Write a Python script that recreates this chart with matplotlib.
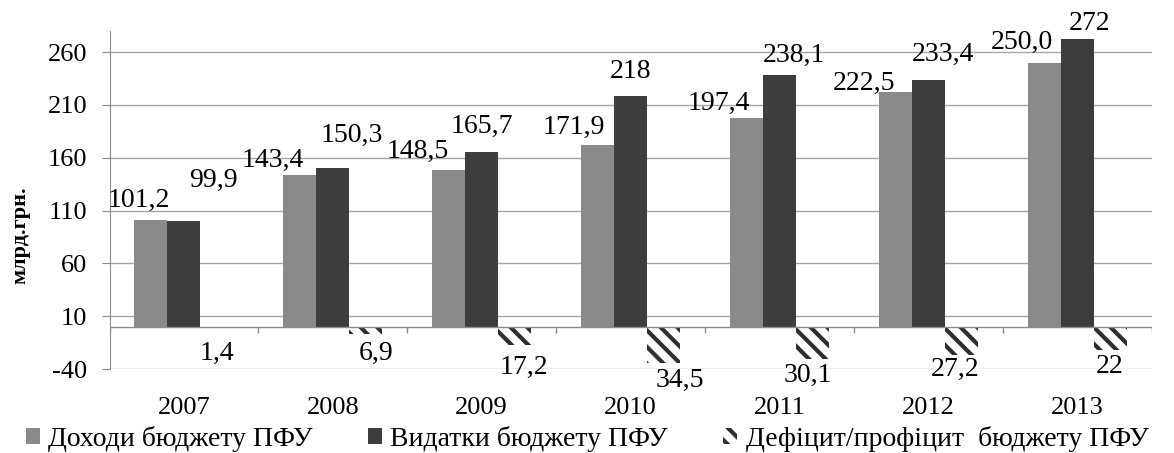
import numpy as np
import matplotlib
matplotlib.use('Agg')
import matplotlib.pyplot as plt
from matplotlib.patches import Patch

years = ['2007', '2008', '2009', '2010', '2011', '2012', '2013']
income = [101.2, 143.4, 148.5, 171.9, 197.4, 222.5, 250.0]
expense = [99.9, 150.3, 165.7, 218, 238.1, 233.4, 272]
deficit = [-1.4, -6.9, -17.2, -34.5, -30.1, -27.2, -22]
yticks = [-40, 10, 60, 110, 160, 210, 260]
names = ['Доходи бюджету ПФУ', 'Видатки бюджету ПФУ', 'Дефіцит/профіцит  бюджету ПФУ']

# label offsets in pixels (hand placed in the original)
inc_off = [(-12, 19), (-27, 15), (-31, 18), (-24, 18), (-28, 15), (-31, 8), (-22, 20)]
exp_off = [(30, 41), (19, 33), (0, 25), (0, 25), (15, 20), (15, 26), (12, 16)]
def_off = [(0, -25), (10, -19), (9, -22), (16, -17), (-5, -17), (-6, -14), (0, -17)]

plt.rcParams['font.family'] = ['Liberation Serif', 'DejaVu Serif']
plt.rcParams['hatch.linewidth'] = 3.0
plt.rcParams['hatch.color'] = '#2e2e2e'

def lab(v):
    return str(abs(v)).replace('.', ',')

fig = plt.figure(figsize=(11.74, 4.53), dpi=100)
ax = fig.add_axes([109.5/1174, 84/453, 1042/1174, 338/453])

x = np.arange(len(years))
w = 0.222
grey = '#8a8a8a'
dark = '#3d3d3d'

ax.bar(x - w, income, w, color=grey, zorder=3)
ax.bar(x, expense, w, color=dark, zorder=3)
ax.bar(x + w, deficit, w, color='white', edgecolor='#2e2e2e', linewidth=0,
       hatch='\\\\', zorder=3)

fs = 20
for i in range(len(years)):
    ax.annotate(lab(income[i]), (x[i] - w, income[i]), xytext=inc_off[i],
                textcoords='offset pixels', ha='center', va='center', fontsize=fs, zorder=5)
    ax.annotate(lab(expense[i]), (x[i], expense[i]), xytext=exp_off[i],
                textcoords='offset pixels', ha='center', va='center', fontsize=fs, zorder=5)
    ax.annotate(lab(deficit[i]), (x[i] + w, deficit[i]), xytext=def_off[i],
                textcoords='offset pixels', ha='center', va='center', fontsize=fs, zorder=5)

ax.set_xlim(-0.5, len(years) - 0.5)
ax.set_ylim(-40, 280)
ax.set_yticks(yticks)
ax.set_yticklabels([str(t) for t in yticks], fontsize=19)
ax.set_xticks(x)
ax.set_xticklabels(years, fontsize=19)
ax.tick_params(axis='x', length=0, pad=20)
ax.tick_params(axis='y', length=6, color='#8c8c8c', pad=10)
ax.grid(axis='y', color='#a6a6a6', linewidth=1, zorder=0)

for s in ['top', 'right', 'bottom']:
    ax.spines[s].set_visible(False)
ax.spines['left'].set_color('#8c8c8c')
ax.axhline(0, color='#8c8c8c', linewidth=1, zorder=4)
ax.vlines(np.arange(len(years) + 1) - 0.5, -6, 0, color='#8c8c8c', linewidth=1, zorder=4)

fig.text(20/1174, 1 - 235/453, 'млрд.грн.', rotation=90, ha='center', va='center',
         fontsize=16, fontweight='bold')

handles = [Patch(facecolor=grey), Patch(facecolor=dark),
           Patch(facecolor='white', hatch='\\\\', linewidth=0)]
fig.legend(handles, names, loc='center', bbox_to_anchor=(0.5, 1 - 439/453), ncol=3,
           frameon=False, fontsize=20, handlelength=0.5, handleheight=0.5,
           handletextpad=0.3, columnspacing=2.0, borderpad=0)

fig.savefig('out.png', dpi=100)
